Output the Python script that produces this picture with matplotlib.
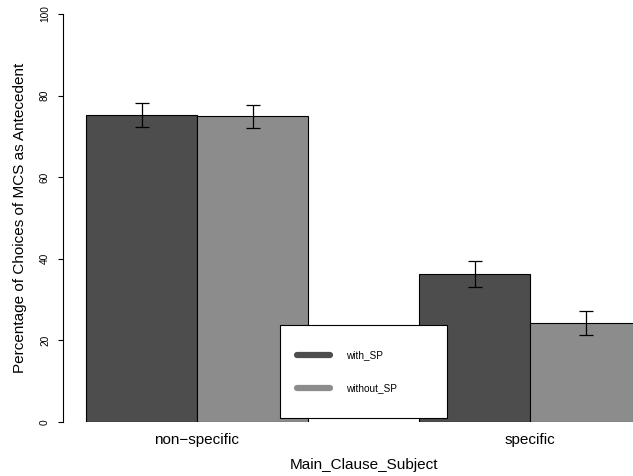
import numpy as np
import matplotlib.pyplot as plt
from matplotlib.lines import Line2D
from matplotlib.patches import Rectangle

plt.rcParams['font.family'] = ['Liberation Sans', 'DejaVu Sans']

## Data
groups = ["non\u2212specific", "specific"]
series = ["with_SP", "without_SP"]
with_sp = [75.3, 36.3]
without_sp = [74.9, 24.3]
with_sp_err = [2.9, 3.2]
without_sp_err = [2.9, 2.9]
colors = ["#4d4d4d", "#8c8c8c"]

W, H = 633, 476
fig = plt.figure(figsize=(W/100, H/100), dpi=100)
ax = fig.add_axes([63/W, 54/H, 1 - 63/W, 408/H])

pos = np.array([0, 3])  # left edges of each group
ax.bar(pos + 0.5, with_sp, width=1, color=colors[0], edgecolor="black", linewidth=0.8, zorder=2)
ax.bar(pos + 1.5, without_sp, width=1, color=colors[1], edgecolor="black", linewidth=0.8, zorder=2)
ax.errorbar(pos + 0.5, with_sp, yerr=with_sp_err, fmt="none", ecolor="black", elinewidth=0.9, capsize=5, capthick=0.9, zorder=3)
ax.errorbar(pos + 1.5, without_sp, yerr=without_sp_err, fmt="none", ecolor="black", elinewidth=0.9, capsize=5, capthick=0.9, zorder=3)

ax.set_xlim(-23/111, 4 + 103/111)
ax.set_ylim(0, 100)
ax.set_yticks([0, 20, 40, 60, 80, 100])
ax.set_yticklabels(["0", "20", "40", "60", "80", "100"], rotation=90, va="center", fontsize=7.3)
ax.tick_params(axis="y", length=3.6, width=0.8, pad=5.8)
ax.set_xticks(pos + 1)
ax.set_xticklabels(groups, fontsize=11)
ax.tick_params(axis="x", length=0, pad=8)
for s in ["top", "right", "bottom"]:
    ax.spines[s].set_visible(False)
ax.spines["left"].set_linewidth(0.8)

ax.set_ylabel("Percentage of Choices of MCS as Antecedent", fontsize=11, labelpad=9)
fig.text(364/W, 1 - 465/H, "Main_Clause_Subject", fontsize=11, ha="center", va="center")

# legend box (white, drawn over the bars)
box = Rectangle((280/W, 1 - 418/H), 167/W, 93/H, transform=fig.transFigure,
                facecolor="white", edgecolor="black", linewidth=0.8, zorder=4)
ax.add_patch(box)
handles = [Line2D([0], [0], color=c, lw=4.5, solid_capstyle="round") for c in colors]
leg = ax.legend(handles, series, loc="upper left", bbox_to_anchor=(297/W, 1 - 350/H),
                bbox_transform=fig.transFigure, frameon=False, fontsize=7.2,
                handlelength=3.3, labelspacing=2.3, borderpad=0, handletextpad=1.6, borderaxespad=0)
leg.set_zorder(5)

plt.savefig("out.png")
